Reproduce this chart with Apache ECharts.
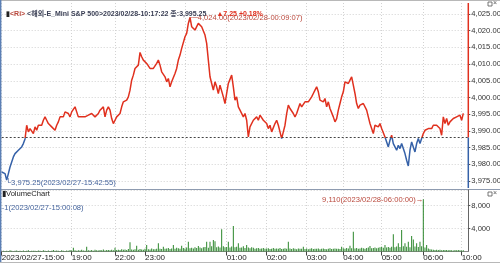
<!DOCTYPE html>
<html>
<head>
<meta charset="utf-8">
<script src="https://cdn.jsdelivr.net/npm/echarts/dist/echarts.min.js"></script>
<style>html,body{margin:0;padding:0;background:#fff;}#c{width:500px;height:263px;}</style>
</head>
<body>
<div id="c"></div>
<script>
const priceValues = [
3977.7,3978.2,3977.2,3975.25,3977.2,3979.2,3980.7,3982.2,3983.2,3982.7,3984.2,3983.7,3985.2,3986.2,3987.6,3991.7,3989.7,3990.7,3990.2,3989.2,3991.2,3990.2,3991.7,3992.2,3991.7,3993.2,3994.2,3993.2,3992.2,3992.7,3991.2,3990.7,3990.2,3991.7,3992.7,3994.2,3994.7,3994.2,3995.7,3996.2,3995.2,3994.2,3995.7,3996.2,3997.2,3995.7,3994.2,3994.7,3994.2,3994.7,3994.2,3993.7,3994.7,3994.2,3995.2,3994.7,3994.2,
3993.7,3995.2,3996.2,3996.7,3997.2,3994.2,3996.2,3997.2,3996.2,3993.7,3992.2,3993.2,3994.2,3994.7,3995.2,3997.2,3998.7,3998.2,3999.2,4000.2,4002.2,4005.2,4006.7,4008.7,4009.2,4009.7,4013.5,4012.2,4011.2,4011.7,4010.2,4009.7,4008.7,4008.2,4008.7,4008.2,4010.2,4011.2,4009.7,4007.7,4007.2,4006.2,4004.7,4005.7,4003.2,4004.7,4005.2,4007.2,4008.7,4011.2,4012.7,4014.7,4015.2,4018.2,4019.2,4022.2,4024.0,
4021.2,4021.7,4020.2,4021.2,4022.2,4022.7,4021.2,4020.7,4018.7,4016.2,4011.2,4006.2,4004.2,4002.2,4004.7,4003.2,4001.2,4003.7,4004.2,4000.2,3998.2,4001.2,4004.2,4004.7,4006.7,4003.2,3999.2,4000.2,3997.2,3996.2,3996.7,3994.2,3995.2,3993.2,3988.2,3991.2,3991.7,3993.2,3992.7,3994.2,3993.2,3994.7,3994.2,3993.2,3993.7,3992.2,3990.7,3991.7,3989.7,3990.2,3992.2,3993.2,3991.7,3989.7,3987.7,3989.7,3991.7,
3995.2,3997.7,3996.7,3997.2,3995.2,3994.2,3995.2,3996.7,3998.2,3997.2,3997.7,3998.7,3999.2,3998.7,3998.2,4000.2,4001.2,4002.2,4003.2,4001.7,3999.2,3999.7,3998.7,3999.7,3997.2,3998.7,3996.7,3996.2,3994.2,3992.7,3993.7,3996.2,3998.2,4000.2,4001.7,4004.7,4005.2,4004.2,4005.2,4006.2,4003.7,4001.2,3998.2,3996.7,3997.7,3997.2,3998.2,3997.7,3996.2,3994.2,3992.2,3990.7,3989.2,
3991.7,3992.2,3991.2,3992.2,3990.7,3990.2,3988.2,3986.7,3985.2,3987.2,3988.7,3986.2,3985.2,3984.2,3985.7,3984.7,3986.2,3984.7,3983.2,3981.2,3979.5,3984.2,3986.7,3985.2,3983.7,3986.2,3987.7,3986.2,3987.7,3989.2,3990.2,3989.7,3990.7,3991.2,3990.7,3991.7,3991.2,3991.7,3991.2,3990.7,3988.7,3994.2,3992.2,3993.7,3991.7,3992.7,3992.2,3993.7,3993.2,3994.2,3993.7,3994.7,3993.2,3995.25
];
const volumeValues = [
1,120,80,150,90,200,110,60,140,180,90,130,70,160,100,120,210,90,140,110,
150,90,170,120,80,200,130,100,160,90,140,250,110,180,130,90,220,150,100,170,
120,260,180,670,200,140,230,160,300,190,150,840,210,170,250,140,320,200,180,260,
220,350,190,240,280,200,310,230,670,260,300,240,380,290,330,260,420,1600,350,300,
400,1000,320,450,360,300,480,1130,390,350,520,410,380,460,1420,500,430,840,470,540,
600,450,520,1130,480,650,560,500,1000,620,540,700,1700,580,640,520,760,600,950,680,
560,720,800,1700,640,1700,900,2000,1800,760,850,680,3860,920,740,800,1700,700,880,4440,
760,820,1420,650,700,900,600,1130,680,560,720,640,500,580,620,480,540,600,460,520,
580,440,500,620,460,540,480,600,420,500,560,460,1700,520,440,580,480,400,540,460,
500,840,440,520,380,480,560,420,500,460,540,400,480,520,440,380,500,560,420,480,
540,460,500,420,840,560,480,620,520,1000,580,3450,540,600,480,520,640,560,500,600,
680,960,560,620,700,580,660,720,840,640,1130,700,780,660,820,2990,760,880,1420,800,
3740,900,1420,820,1700,760,2700,2100,860,1420,780,1700,900,9110,700,1130,520,400,360,300,
280,320,250,300,220,260,240,280,200,260,230,190,250,210,240,200,180,220
];
const tickIndex = [0, 42, 68, 86, 135, 159, 183, 205, 228, 253, 276];
const tickText = ['2023/02/27-15:00', '19:00', '22:00', '23:00', '01:00', '02:00', '03:00', '04:00', '05:00', '06:00', '10:00'];
const gridLineIndex = [0, 42, 68, 86, 110, 135, 159, 183, 205, 228, 253, 276];
const prevClose = 3988.00;
const priceMaxTime = '2023/02/28-00:09:07';
const priceMinTime = '2023/02/27-15:42:55';
const volMaxTime = '2023/02/28-06:00:00';
const volMinTime = '2023/02/27-15:00:08';
const headerName = '<해외-E_Mini S&P 500>';
const headerTime = '2023/02/28-10:17:22';
const categoryCount = 281;

const RED = '#e0301e', BLUE = '#3561a8', BROWN = '#b9483c', ABLUE = '#44639c', GREEN = '#2a862a';
const FONT = "'Liberation Sans Narrow', 'Liberation Sans', 'Noto Sans CJK KR', sans-serif";
const GRIDC = '#d2d2d2';
const fmt2 = v => Number(v).toLocaleString('en-US', {minimumFractionDigits: 2, maximumFractionDigits: 2});
const fmt0 = v => Number(v).toLocaleString('en-US', {maximumFractionDigits: 0});

const cats = Array.from({length: categoryCount}, (_, i) => {
  const k = tickIndex.indexOf(i); return k >= 0 ? tickText[k] : '';
});
const tickSet = new Set(tickIndex), lineSet = new Set(gridLineIndex);
const last = priceValues[priceValues.length - 1];
const chg = last - prevClose;
const pct = chg / prevClose * 100;
const Y_MIN = 3972.9, Y_MAX = 4028.3;

const chart = echarts.init(document.getElementById('c'), null, {renderer: 'canvas'});
const L = 1.7, R = 31.7;
const staticGraphics = [
  {type: 'line', shape: {x1: 0, y1: 0.5, x2: 500, y2: 0.5}, style: {stroke: '#b8b8b8', lineWidth: 1}},
  {type: 'line', shape: {x1: 0, y1: 189.5, x2: 500, y2: 189.5}, style: {stroke: '#8e9bb0', lineWidth: 1}},
  {type: 'line', shape: {x1: 0.7, y1: 0, x2: 0.7, y2: 263}, style: {stroke: '#5b7fb5', lineWidth: 1.4}},
  {type: 'line', shape: {x1: 0, y1: 262.5, x2: 500, y2: 262.5}, style: {stroke: '#b8b8b8', lineWidth: 1}},
  {type: 'text', left: 2, top: 190, style: {text: '▮VolumeChart', fill: '#222', font: '7.6px ' + FONT}},
  {type: 'rect', shape: {x: 488, y: 2, width: 4, height: 4}, style: {fill: '#fff', stroke: '#555', lineWidth: 0.8}},
  {type: 'text', left: 493, top: 0, style: {text: '×', fill: '#555', font: '7px ' + FONT}},
  {type: 'rect', shape: {x: 488, y: 192, width: 4, height: 4}, style: {fill: '#fff', stroke: '#555', lineWidth: 0.8}},
  {type: 'text', left: 493, top: 190, style: {text: '×', fill: '#555', font: '7px ' + FONT}}
];
const gridBase = {left: L, right: R, containLabel: false, outerBoundsMode: 'none'};
chart.setOption({
  animation: false,
  backgroundColor: '#fff',
  textStyle: {fontFamily: FONT},
  title: {
    left: 1, top: 0,
    text: '{k|▮}{r|<Ri>}{t| ' + headerName + headerTime + ' 종:' + fmt2(last) + '}  {u|' + (chg >= 0 ? '▲' : '▼') + fmt2(chg) + ' +' + pct.toFixed(2) + '%}',
    textStyle: {
      fontFamily: FONT,
      rich: {
        k: {fontSize: 7, color: '#222', fontFamily: FONT, lineHeight: 10},
        r: {fontSize: 7, color: BROWN, fontFamily: FONT, lineHeight: 10},
        t: {fontSize: 7, color: '#3a3f55', fontFamily: FONT, lineHeight: 10},
        u: {fontSize: 7, color: RED, fontFamily: FONT, lineHeight: 10}
      }
    }
  },
  grid: [
    Object.assign({}, gridBase, {top: 14, bottom: 263 - 181}),
    Object.assign({}, gridBase, {top: 3, bottom: 263 - 188}),
    Object.assign({}, gridBase, {top: 190, bottom: 263 - 251.5})
  ],
  visualMap: {
    type: 'piecewise', show: false, seriesIndex: 0, dimension: 1,
    pieces: [{gte: Y_MIN, lt: prevClose, color: BLUE}, {gte: prevClose, lte: Y_MAX, color: RED}],
    outOfRange: {color: RED}
  },
  xAxis: [
    {gridIndex: 0, type: 'category', data: cats, boundaryGap: false, show: false},
    {gridIndex: 1, type: 'category', data: cats, boundaryGap: false,
      axisLine: {show: false}, axisTick: {show: false}, axisLabel: {show: false},
      splitLine: {show: true, interval: (i) => lineSet.has(i), lineStyle: {color: GRIDC, type: [1, 2], width: 1}}},
    {gridIndex: 2, type: 'category', data: cats, boundaryGap: false,
      axisLine: {show: true, lineStyle: {color: '#8a8a8a', width: 1}},
      axisTick: {show: true, interval: (i) => tickSet.has(i), length: 4, lineStyle: {color: '#444'}},
      axisLabel: {show: true, interval: (i) => tickSet.has(i), align: 'left', fontSize: 8, color: '#222', margin: 2, fontFamily: FONT},
      splitLine: {show: true, interval: (i) => lineSet.has(i), lineStyle: {color: GRIDC, type: [1, 2], width: 1}}}
  ],
  yAxis: [
    {gridIndex: 0, type: 'value', min: 3975, max: 4025, interval: 5, position: 'right',
      axisLine: {show: false},
      axisTick: {show: true, length: 2, lineStyle: {color: '#555'}},
      axisLabel: {formatter: v => fmt2(v), fontSize: 7.6, color: '#333', margin: 3, fontFamily: FONT},
      splitLine: {show: true, lineStyle: {color: GRIDC, type: [1, 2], width: 1}}},
    {gridIndex: 1, type: 'value', min: Y_MIN, max: Y_MAX, position: 'right',
      axisLine: {show: false}, axisTick: {show: false}, axisLabel: {show: false}, splitLine: {show: false}},
    {gridIndex: 2, type: 'value', min: 0, max: 10700, interval: 4000, position: 'right',
      axisLine: {show: true, lineStyle: {color: '#666', width: 1}},
      axisTick: {show: true, length: 2, lineStyle: {color: '#555'}},
      axisLabel: {formatter: v => fmt0(v), showMinLabel: false, showMaxLabel: false, fontSize: 7.6, color: '#333', margin: 3, fontFamily: FONT},
      splitLine: {show: true, lineStyle: {color: GRIDC, type: [1, 2], width: 1}}}
  ],
  series: [
    {type: 'line', xAxisIndex: 1, yAxisIndex: 1, data: priceValues, showSymbol: false, symbol: 'none',
      lineStyle: {width: 1.5}, z: 3,
      markLine: {
        silent: true, symbol: 'none', label: {show: false},
        data: [
          {yAxis: prevClose, lineStyle: {color: '#444', type: [2, 2], width: 1}}
        ]
      },
      markPoint: {
        symbol: 'circle', symbolSize: 0, silent: true,
        data: [
          {type: 'max', label: {show: true, position: 'right', distance: 0, offset: [-3, 1],
            formatter: p => '┌─' + fmt2(p.value) + '(' + priceMaxTime + ')', color: BROWN, fontSize: 7.6, fontFamily: FONT}},
          {type: 'min', label: {show: true, position: 'right', distance: 0, offset: [-1, 3],
            formatter: p => '└' + fmt2(p.value) + '(' + priceMinTime + ')', color: ABLUE, fontSize: 7.6, fontFamily: FONT}}
        ]
      }
    },
    {type: 'bar', xAxisIndex: 2, yAxisIndex: 2, data: volumeValues, barWidth: 1, itemStyle: {color: GREEN},
      markPoint: {
        symbol: 'circle', symbolSize: 0, silent: true,
        data: [
          {type: 'max', label: {show: true, position: 'left', distance: 0, offset: [0, 1],
            formatter: p => fmt0(p.value) + '(' + volMaxTime + ')→', color: BROWN, fontSize: 7.6, fontFamily: FONT}},
          {type: 'min', label: {show: true, position: 'right', distance: 0, offset: [0, -44],
            formatter: p => '-' + fmt0(p.value) + '(' + volMinTime + ')', color: ABLUE, fontSize: 7.6, fontFamily: FONT}}
        ]
      }
    }
  ],
  graphic: staticGraphics
});

// right price axis line: red above the previous close, blue below, placed with the chart's own scales
const ax = chart.convertToPixel({xAxisIndex: 1}, categoryCount - 1);
const yTop = chart.convertToPixel({yAxisIndex: 1}, Y_MAX);
const yMid = chart.convertToPixel({yAxisIndex: 1}, prevClose);
const yBot = chart.convertToPixel({yAxisIndex: 1}, Y_MIN);
chart.setOption({
  graphic: staticGraphics.concat([
    {type: 'line', z: 10, shape: {x1: ax, y1: yTop, x2: ax, y2: yMid}, style: {stroke: RED, lineWidth: 1.5}},
    {type: 'line', z: 10, shape: {x1: ax, y1: yMid, x2: ax, y2: yBot}, style: {stroke: BLUE, lineWidth: 1.5}}
  ])
}, {replaceMerge: ['graphic']});
</script>
</body>
</html>
